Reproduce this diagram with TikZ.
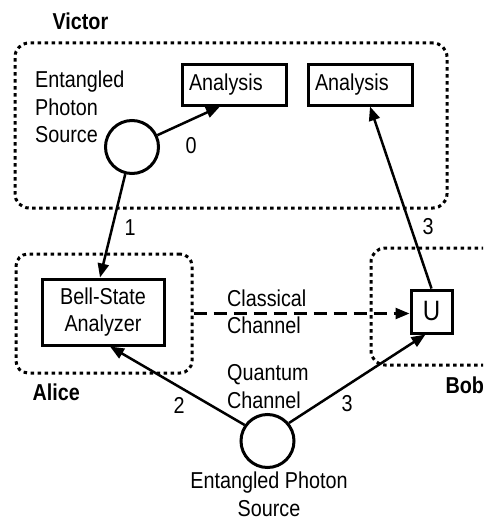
\documentclass[tikz,border=0pt]{standalone}
\usepackage{fontspec}
\setmainfont{Liberation Sans}[FakeStretch=0.86]
\usetikzlibrary{arrows.meta}

\newcommand{\diagfont}{\fontsize{23}{27.5}\selectfont}

\tikzset{
    party/.style={draw, line width=3pt, dash pattern=on 3.5pt off 3.5pt, rounded corners=14pt, inner sep=0pt},
    partylabel/.style={anchor=base west, font=\diagfont\bfseries},
    device/.style={draw, line width=3pt, inner sep=0pt},
    source/.style={draw, circle, line width=3pt, minimum size=53pt, inner sep=0pt},
    blocktext/.style={inner sep=0pt, align=left, anchor=north west},
    photon/.style={line width=2.5pt, -{Triangle[length=14pt,width=11pt]}},
}

\begin{document}
\begin{tikzpicture}[x=1pt,y=-1pt,font=\diagfont]

        % Background
        \path[use as bounding box, clip] (0,0) rectangle (483,519);
        \fill[white] (0,0) rectangle (483,519);

        % Parties
        \node[party, minimum width=432pt, minimum height=165pt] (victor) at (231,125.5) {};
        \node[party, minimum width=176pt, minimum height=119pt, rounded corners=12pt] (alice) at (104,313.5) {};
        \node[party, minimum width=149pt, minimum height=117pt] (bob) at (445.5,306.5) {};
        % Parties: Labels
        \node[partylabel] (victorlabel) at (49,30) {Victor};
        \node[partylabel] (alicelabel) at (29,400) {Alice};
        \node[partylabel] (boblabel) at (442,393) {Bob};

        % Devices
        \node[device, text width=90pt, inner xsep=7pt, minimum height=40pt] (analysisA) at (234,85) {Analysis};
        \node[device, text width=90pt, inner xsep=7pt, minimum height=40pt] (analysisB) at (360,85) {Analysis};
        \node[device, minimum width=122pt, minimum height=66pt, align=center] (bsa) at (103,312) {Bell-State\\Analyzer};
        \node[device, minimum width=41pt, minimum height=43pt, font=\fontsize{28}{30}\selectfont] (unitary) at (431.5,311.5) {U};

        % Sources
        \node[source] (victorsrc) at (132,147) {};
        \node[source] (channelsrc) at (267.5,441) {};
        \node[blocktext] (victorsrctext) at (35,71) {Entangled\\Photon\\Source};
        \node[blocktext, align=center, anchor=north] (channelsrctext) at (269,472) {Entangled Photon\\Source};

        % Channels
        \node[blocktext] (classical) at (227,289.5) {Classical\\Channel};
        \node[blocktext] (quantum) at (227,364.5) {Quantum\\Channel};
        \draw[photon] (victorsrc.25) -- ([xshift=-14pt]analysisA.south);
        \draw[photon] (victorsrc.256) -- ([xshift=-3pt]bsa.north);
        \draw[photon] (channelsrc.145) -- ([xshift=7pt]bsa.south);
        \draw[photon] (channelsrc.40) -- ([xshift=-6pt]unitary.south);
        \draw[photon] (unitary.north) -- ([xshift=10pt]analysisB.south);
        \draw[photon, dash pattern=on 13pt off 7pt] (alice.east) -- (unitary.west |- alice.east);

        % Photon numbers
        \foreach \name/\pos/\num in {zero/{191,146}/0, one/{130,228}/1, two/{179,405}/2, threeA/{347,404}/3, threeB/{428,227}/3} {
            \node (num\name) at (\pos) {\num};
        }

    \end{tikzpicture}
\end{document}
